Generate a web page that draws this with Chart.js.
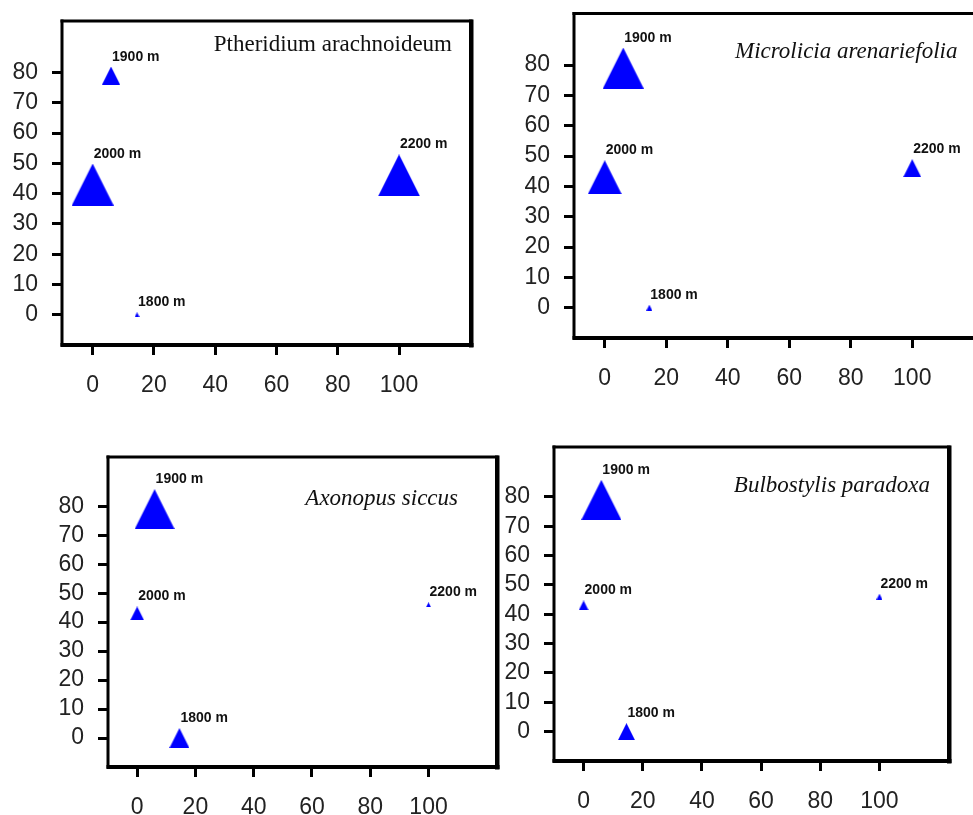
<!DOCTYPE html>
<html><head><meta charset="utf-8">
<script src="https://cdn.jsdelivr.net/npm/chart.js@4"></script>
<style>
html,body{margin:0;padding:0;background:#fff;width:973px;height:815px;overflow:hidden;position:relative}
canvas{position:absolute}
</style></head><body>
<script>
// ---- data ----
const altitudes = [1800, 1900, 2000, 2200];
const axis1Values = [14.5, 6, 0, 100];
const axis2Values = [0, 79, 43, 46];
const speciesNames = ['Ptheridium arachnoideum', 'Microlicia arenariefolia', 'Axonopus siccus', 'Bulbostylis paradoxa'];
const abundancePteridium = [5, 18, 42, 42];
const abundanceMicrolicia = [6, 41, 34, 18];
const abundanceAxonopus = [20, 40, 14, 5];
const abundanceBulbostylis = [17, 40, 10, 6];
const xTickValues = [0, 20, 40, 60, 80, 100];
const yTickValues = [0, 10, 20, 30, 40, 50, 60, 70, 80];

// ---- layout / style ----
const markerScale = 1; // px of marker width per abundance unit
const panels = [
  {abund: abundancePteridium, box: [62, 21, 471, 345], italic: false, titleRight: 19, titleBase: 30},
  {abund: abundanceMicrolicia, box: [574, 13, 984, 337], italic: true, titleRight: 27, titleBase: 44},
  {abund: abundanceAxonopus, box: [108, 457, 497, 767], italic: true, titleRight: 39, titleBase: 48},
  {abund: abundanceBulbostylis, box: [554, 447, 949, 761], italic: true, titleRight: 19, titleBase: 45}
];
const PADL = 80, PADT = 10, PADR = 10, PADB = 70;

const triCache = {};
function triangle(s) {
  s = Math.max(2, Math.round(s));
  if (triCache[s]) return triCache[s];
  const c = document.createElement('canvas');
  c.width = s; c.height = s;
  const g = c.getContext('2d');
  g.fillStyle = '#0000ff';
  g.beginPath();
  g.moveTo(s / 2, 0); g.lineTo(s, s); g.lineTo(0, s); g.closePath();
  g.fill();
  triCache[s] = c;
  return c;
}

const boxPlugin = {
  id: 'box',
  afterDatasetsDraw(chart) {
    const {ctx, chartArea: a} = chart;
    const o = chart.options.plugins.box;
    ctx.save();
    ctx.fillStyle = '#000';
    ctx.fillRect(a.left - 1.5, a.top - 1.5, 3, a.bottom - a.top + 3);
    ctx.fillRect(a.left - 1.5, a.top - 1.5, a.right - a.left + 3, 3);
    ctx.fillRect(a.right - 2, a.top - 1.5, 4.5, a.bottom - a.top + 4);
    ctx.fillRect(a.left - 1.5, a.bottom - 2, a.right - a.left + 4, 4);
    // title
    ctx.fillStyle = '#111';
    ctx.font = (o.italic ? 'italic ' : '') + '23px "Liberation Serif"';
    ctx.textAlign = 'right';
    ctx.textBaseline = 'alphabetic';
    ctx.fillText(o.title, a.right - o.titleRight, a.top + o.titleBase);
    // point labels
    const meta = chart.getDatasetMeta(0);
    const sizes = chart.data.datasets[0].sizes;
    ctx.font = 'bold 14px "Liberation Sans"';
    ctx.textAlign = 'left';
    meta.data.forEach((pt, i) => {
      const s = sizes[i] * markerScale;
      ctx.fillText(altitudes[i] + ' m', pt.x + 1, pt.y - s / 2 - 6);
    });
    ctx.restore();
  }
};

function zeroPad(s) { s.paddingTop = 0; s.paddingBottom = 0; s.paddingLeft = 0; s.paddingRight = 0; }

function config(p, k) {
  const tickFont = {family: '"Liberation Sans"', size: 23};
  return {
    type: 'scatter',
    data: {
      datasets: [{
        data: axis1Values.map((x, i) => ({x, y: axis2Values[i]})),
        sizes: p.abund,
        pointStyle: ctx => triangle(p.abund[ctx.dataIndex] * markerScale),
        pointRadius: ctx => Math.max(1, p.abund[ctx.dataIndex] * markerScale / 2),
        backgroundColor: '#0000ff',
        borderWidth: 0
      }]
    },
    options: {
      responsive: false,
      maintainAspectRatio: false,
      animation: false,
      events: [],
      layout: {padding: {left: 0, top: PADT, right: PADR, bottom: 0}},
      plugins: {
        legend: {display: false},
        tooltip: {enabled: false},
        box: {title: speciesNames[k], italic: p.italic, titleRight: p.titleRight, titleBase: p.titleBase}
      },
      scales: {
        x: {
          type: 'linear', min: -10, max: 123.5,
          afterBuildTicks: s => { s.ticks = xTickValues.map(v => ({value: v})); },
          afterFit: s => { s.height = PADB; zeroPad(s); },
          grid: {drawOnChartArea: false, drawTicks: true, tickLength: 10, lineWidth: 3, color: '#000'},
          border: {display: false},
          ticks: {font: tickFont, color: '#222', padding: 17, maxRotation: 0, autoSkip: false, callback: v => String(v)}
        },
        y: {
          type: 'linear', min: -10, max: 97,
          afterBuildTicks: s => { s.ticks = yTickValues.map(v => ({value: v})); },
          afterFit: s => { s.width = PADL; zeroPad(s); },
          grid: {drawOnChartArea: false, drawTicks: true, tickLength: 10, lineWidth: 3, color: '#000'},
          border: {display: false},
          ticks: {font: tickFont, color: '#222', padding: 14, autoSkip: false, callback: v => String(v)}
        }
      }
    },
    plugins: [boxPlugin]
  };
}

panels.forEach((p, k) => {
  const [l, t, r, b] = p.box;
  // pass 1: measure the margins Chart.js leaves around the plot area
  const probe = document.createElement('canvas');
  const w0 = (r - l) + PADL + PADR + 40, h0 = (b - t) + PADT + PADB + 40;
  probe.width = w0; probe.height = h0;
  probe.style.left = '-5000px'; probe.style.top = '0px';
  probe.style.width = w0 + 'px'; probe.style.height = h0 + 'px';
  document.body.appendChild(probe);
  const c0 = new Chart(probe, config(p, k));
  const ca = c0.chartArea;
  const mL = ca.left, mT = ca.top, mR = w0 - ca.right, mB = h0 - ca.bottom;
  c0.destroy();
  probe.remove();
  // pass 2: final canvas so the plot area lands on the panel box
  const cv = document.createElement('canvas');
  const w = Math.round((r - l) + mL + mR), h = Math.round((b - t) + mT + mB);
  cv.width = w; cv.height = h;
  cv.style.left = (l - mL) + 'px';
  cv.style.top = (t - mT) + 'px';
  cv.style.width = w + 'px'; cv.style.height = h + 'px';
  document.body.appendChild(cv);
  new Chart(cv, config(p, k));
});
</script>
</body></html>
